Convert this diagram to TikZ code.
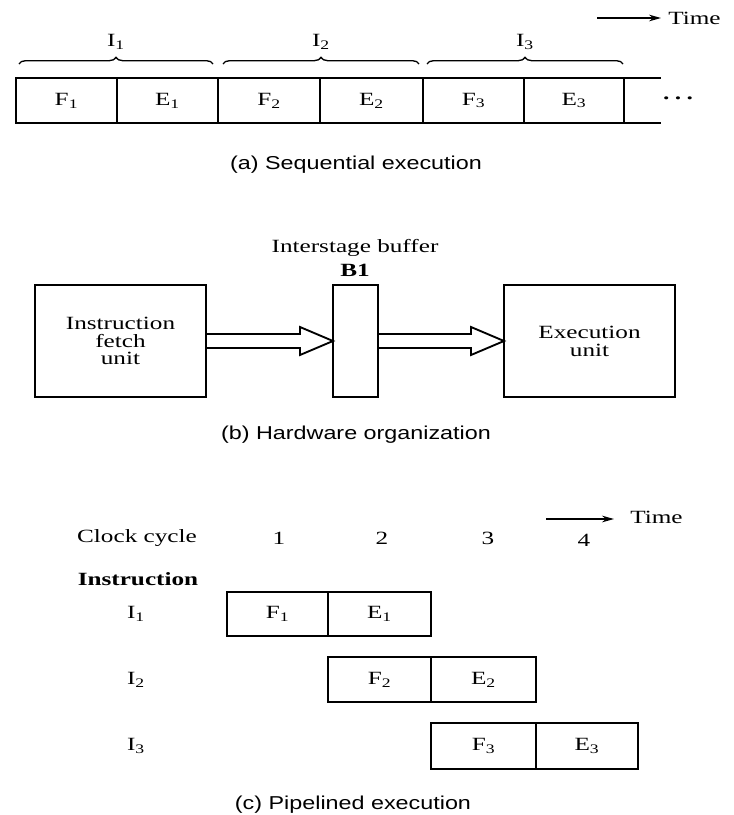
\documentclass[tikz,border=0pt]{standalone}
\usepackage{fontspec}
\setmainfont{Liberation Serif}[FakeStretch=1.35]
\setsansfont{Liberation Sans}[FakeStretch=1.25]
\usetikzlibrary{arrows.meta,decorations.pathreplacing,calc}
\begin{document}
\begin{tikzpicture}[x=0.75pt,y=-0.75pt,
  txt/.style={font=\fontsize{14}{13.4}\selectfont, inner sep=0, align=center},
  captxt/.style={font=\sffamily\fontsize{14}{15}\selectfont, inner sep=0},
  cell/.style={draw, line width=1.8pt, inner sep=0, outer sep=0, font=\fontsize{14}{14}\selectfont},
  hw/.style={draw, line width=1.8pt, inner sep=0, outer sep=0, align=center, minimum height=112*0.75pt, font=\fontsize{14}{13.4}\selectfont},
  brc/.style={decorate, decoration={brace, amplitude=5pt}, line width=1pt},
  tarrow/.style={line width=1.1pt, -{Stealth[length=9pt,width=5pt]}},
  hollow/.style={draw, line width=1.4pt, line join=miter}
]
\useasboundingbox[fill=white] (0,0) rectangle (734,815);

% ---------- (a) Sequential execution ----------
\coordinate (ta1) at (597,18);
\coordinate (ta2) at (661,18);
\draw[tarrow] (ta1) -- (ta2);
\node[txt, anchor=west] (timea) at (668,18) {Time};

\node[txt] (ia1) at (116,42) {I\textsubscript{1}};
\node[txt] (ia2) at (321,42) {I\textsubscript{2}};
\node[txt] (ia3) at (525,42) {I\textsubscript{3}};

\coordinate (b1s) at (19,64);  \coordinate (b1e) at (213,64);
\coordinate (b2s) at (223,64); \coordinate (b2e) at (419,64);
\coordinate (b3s) at (427,64); \coordinate (b3e) at (623,64);
\draw[brc] (b1s) -- (b1e);
\draw[brc] (b2s) -- (b2e);
\draw[brc] (b3s) -- (b3e);

\node[cell, minimum width=101*0.75pt, minimum height=45*0.75pt] (af1) at (66.5,100.5) {F\textsubscript{1}};
\node[cell, minimum width=101*0.75pt, minimum height=45*0.75pt] (ae1) at (167.5,100.5) {E\textsubscript{1}};
\node[cell, minimum width=102*0.75pt, minimum height=45*0.75pt] (af2) at (269,100.5) {F\textsubscript{2}};
\node[cell, minimum width=103*0.75pt, minimum height=45*0.75pt] (ae2) at (371.5,100.5) {E\textsubscript{2}};
\node[cell, minimum width=101*0.75pt, minimum height=45*0.75pt] (af3) at (473.5,100.5) {F\textsubscript{3}};
\node[cell, minimum width=100*0.75pt, minimum height=45*0.75pt] (ae3) at (574,100.5) {E\textsubscript{3}};
\coordinate (endtop) at (661,78);
\coordinate (endbot) at (661,123);
\draw[line width=1.8pt] (ae3.north east) -- (endtop);
\draw[line width=1.8pt] (ae3.south east) -- (endbot);
\node[txt] (dots) at (678,101) {\textbf{·\hspace{2.5pt}·\hspace{2.5pt}·}};

\node[captxt] (capa) at (356,165) {(a) Sequential execution};

% ---------- (b) Hardware organization ----------
\node[txt] (isb) at (355,248) {Interstage buffer};
\node[txt] (b1lab) at (355,270) {\textbf{B1}};

\node[hw, minimum width=171*0.75pt] (ifu) at (120.5,341) {Instruction\\fetch\\unit};
\node[hw, minimum width=45*0.75pt] (buf) at (355.5,341) {};
\node[hw, minimum width=171*0.75pt] (exu) at (589.5,341) {Execution\\unit};

\draw[hollow] ($(ifu.east)+(0,-7)$) -- ($(buf.west)+(-33,-7)$) -- ($(buf.west)+(-33,-14)$)
  -- (buf.west) -- ($(buf.west)+(-33,14)$) -- ($(buf.west)+(-33,7)$) -- ($(ifu.east)+(0,7)$);
\draw[hollow] ($(buf.east)+(0,-7)$) -- ($(exu.west)+(-33,-7)$) -- ($(exu.west)+(-33,-14)$)
  -- (exu.west) -- ($(exu.west)+(-33,14)$) -- ($(exu.west)+(-33,7)$) -- ($(buf.east)+(0,7)$);

\node[captxt] (capb) at (356,435) {(b) Hardware organization};

% ---------- (c) Pipelined execution ----------
\coordinate (tc1) at (546,519);
\coordinate (tc2) at (614,519);
\draw[tarrow] (tc1) -- (tc2);
\node[txt, anchor=west] (timec) at (630,517) {Time};

\node[txt] (clk) at (137,538) {Clock cycle};
\node[txt] (n1) at (279,538) {1};
\node[txt] (n2) at (382,538) {2};
\node[txt] (n3) at (488,538) {3};
\node[txt] (n4) at (584,540) {4};

\node[txt] (instr) at (138,579) {\textbf{Instruction}};

\node[txt] (ci1) at (136,614) {I\textsubscript{1}};
\node[txt] (ci2) at (136,680) {I\textsubscript{2}};
\node[txt] (ci3) at (136,746) {I\textsubscript{3}};

\node[cell, minimum width=101*0.75pt, minimum height=44*0.75pt] (cf1) at (277.5,614) {F\textsubscript{1}};
\node[cell, minimum width=103*0.75pt, minimum height=44*0.75pt] (ce1) at (379.5,614) {E\textsubscript{1}};
\node[cell, minimum width=103*0.75pt, minimum height=45*0.75pt] (cf2) at (379.5,679.5) {F\textsubscript{2}};
\node[cell, minimum width=105*0.75pt, minimum height=45*0.75pt] (ce2) at (483.5,679.5) {E\textsubscript{2}};
\node[cell, minimum width=105*0.75pt, minimum height=46*0.75pt] (cf3) at (483.5,746) {F\textsubscript{3}};
\node[cell, minimum width=102*0.75pt, minimum height=46*0.75pt] (ce3) at (587,746) {E\textsubscript{3}};

\node[captxt] (capc) at (353,805) {(c) Pipelined execution};
\end{tikzpicture}
\end{document}
